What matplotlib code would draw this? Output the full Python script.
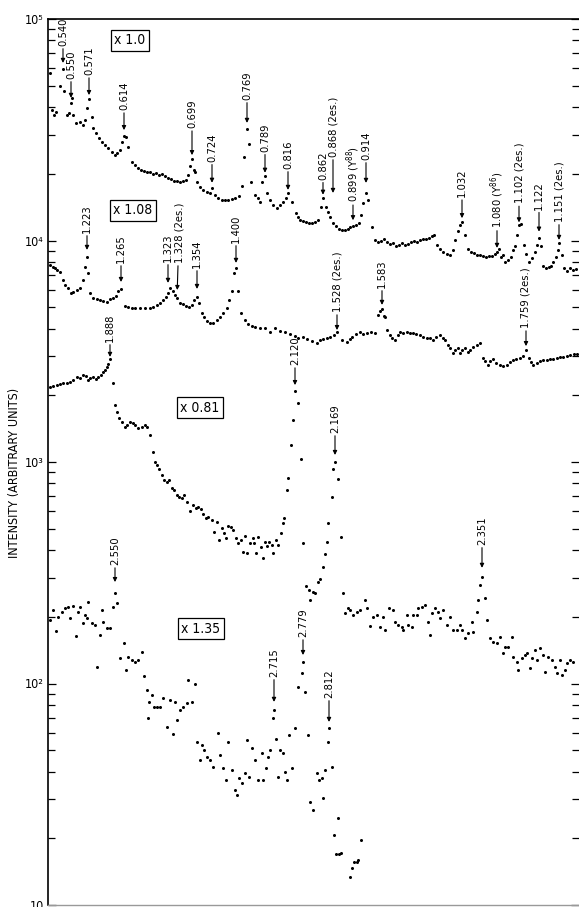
import matplotlib
matplotlib.use('Agg')
import matplotlib.pyplot as plt
import matplotlib.font_manager as fm
import numpy as np

# pick a narrow sans font if one is installed (the original lettering is condensed)
narrow = None
for f in fm.fontManager.ttflist:
    nm = f.name
    if 'Mono' in nm or 'Serif' in nm or f.style != 'normal':
        continue
    if f.weight not in (400, 'normal', 'regular', 'book'):
        continue
    if 'Narrow' in nm or 'Condensed' in nm or f.stretch in ('condensed', 'semi-condensed'):
        narrow = f
        break
if narrow is not None:
    plt.rcParams['font.family'] = [narrow.name, 'DejaVu Sans']
    plt.rcParams['font.stretch'] = narrow.stretch
    LAB_FS, BOX_FS, TICK_FS = 8.0, 10, 9
else:
    plt.rcParams['font.family'] = ['DejaVu Sans']
    LAB_FS, BOX_FS, TICK_FS = 7.0, 9, 8.5

# ---------------- data (channel, intensity) ----------------
series_x10 = [(2, 57100), (4, 38800), (6, 36900), (8, 38000), (12, 49900), (15, 59500), (16, 47300),
    (19, 36900), (21, 37600), (23, 41800), (24, 44000), (25, 36900), (28, 33900), (32, 34300),
    (35, 33200), (37, 35000), (39, 39700), (41, 43500), (44, 36100), (45, 32200), (48, 30600),
    (51, 29000), (54, 27800), (57, 27000), (60, 26200), (64, 25100), (67, 24300), (69, 24800),
    (72, 25600), (74, 27800), (76, 29600), (78, 29300), (80, 26400), (84, 22600), (87, 21900),
    (90, 21200), (93, 20800), (96, 20600), (99, 20400), (102, 20400), (105, 20000), (108, 20200),
    (111, 19800), (114, 20000), (117, 19600), (120, 19200), (123, 19000), (126, 18600), (129, 18600),
    (132, 18400), (135, 18600), (138, 18800), (140, 19800), (142, 21700), (144, 23300), (146, 20800),
    (147, 20400), (149, 18400), (152, 17400), (155, 16900), (159, 16600), (162, 16400), (164, 17300),
    (167, 16000), (170, 15600), (174, 15200), (177, 15200), (180, 15200), (184, 15400), (187, 15600),
    (191, 15900), (194, 17600), (196, 23800), (199, 31900), (201, 27300), (203, 18400), (207, 16000),
    (210, 15600), (212, 14900), (214, 18400), (217, 19600), (219, 16400), (222, 15200), (225, 14500),
    (229, 14000), (232, 14500), (235, 14900), (238, 15600), (240, 16400), (244, 14900), (248, 13300),
    (250, 12800), (252, 12400), (255, 12200), (258, 12100), (261, 12000), (264, 12000), (267, 12100),
    (270, 12400), (273, 14200), (275, 15600), (278, 14200), (280, 13400), (282, 12800), (285, 12000),
    (288, 11600), (291, 11300), (294, 11200), (297, 11200), (300, 11300), (302, 11500), (305, 11600),
    (308, 11700), (311, 12000), (313, 13000), (315, 14800), (318, 16400), (320, 15200), (324, 11500),
    (327, 10050), (330, 9850), (333, 9950), (336, 10200), (339, 9850), (342, 9650), (345, 9750),
    (348, 9450), (351, 9550), (354, 9750), (357, 9550), (360, 9650), (363, 9850), (366, 9950),
    (369, 9850), (372, 10050), (375, 10200), (378, 10200), (381, 10300), (384, 10500), (386, 10600),
    (389, 9550), (392, 9160), (395, 8880), (399, 8700), (402, 8600), (405, 9060), (407, 10050),
    (410, 11000), (412, 11700), (414, 12100), (417, 10600), (420, 9160), (423, 8880), (426, 8790),
    (429, 8600), (432, 8600), (435, 8520), (438, 8430), (441, 8520), (444, 8520), (447, 8700),
    (449, 8880), (451, 9160), (453, 8430), (455, 8600), (457, 8000), (460, 8170), (463, 8430),
    (465, 9060), (467, 9450), (469, 10600), (471, 11700), (473, 11900), (476, 9550), (478, 8700),
    (481, 8000), (484, 8340), (487, 8880), (489, 9550), (491, 10300), (493, 9450), (495, 7670),
    (498, 7520), (501, 7600), (503, 7670), (505, 8000), (508, 8430), (510, 9060), (511, 9750),
    (514, 8600), (516, 7520), (519, 7290), (522, 7520), (525, 7360), (528, 7440)]

series_x108 = [(2, 7760), (5, 7600), (7, 7520), (9, 7360), (12, 7210), (15, 6630), (17, 6300),
    (20, 6110), (23, 5800), (25, 5860), (29, 5980), (32, 6110), (35, 6630), (37, 7600), (39, 8430),
    (40, 7140), (42, 5800), (45, 5500), (49, 5450), (52, 5390), (55, 5330), (59, 5280), (62, 5450),
    (65, 5500), (68, 5620), (70, 5920), (73, 6040), (77, 5060), (80, 5010), (84, 4960), (87, 4960),
    (92, 4960), (97, 4960), (102, 4960), (105, 5010), (109, 5120), (112, 5220), (115, 5390),
    (118, 5560), (120, 5800), (122, 6110), (125, 5920), (127, 5680), (129, 5500), (132, 5220),
    (135, 5170), (138, 5060), (141, 5010), (144, 5120), (146, 5390), (149, 5560), (151, 5220),
    (154, 4710), (156, 4520), (159, 4330), (162, 4240), (165, 4240), (169, 4380), (172, 4520),
    (175, 4710), (179, 4960), (181, 5390), (184, 5920), (186, 7140), (188, 7520), (190, 5920),
    (193, 4710), (197, 4380), (200, 4200), (204, 4110), (207, 4070), (212, 4030), (217, 4030),
    (222, 3860), (227, 4030), (232, 3900), (237, 3860), (242, 3780), (247, 3710), (250, 3630),
    (255, 3670), (259, 3590), (264, 3520), (269, 3450), (272, 3560), (275, 3590), (279, 3630),
    (282, 3670), (286, 3750), (289, 3860), (294, 3560), (299, 3480), (302, 3590), (304, 3670),
    (308, 3780), (312, 3860), (315, 3780), (319, 3820), (323, 3860), (327, 3820), (330, 4610),
    (332, 4810), (334, 4910), (336, 4560), (337, 4520), (339, 3950), (342, 3750), (344, 3630),
    (347, 3560), (350, 3750), (352, 3860), (355, 3820), (359, 3860), (362, 3820), (365, 3820),
    (368, 3780), (372, 3750), (375, 3670), (379, 3630), (382, 3630), (385, 3560), (388, 3670),
    (392, 3750), (395, 3630), (397, 3560), (400, 3380), (402, 3270), (405, 3110), (407, 3200),
    (410, 3270), (412, 3110), (414, 3200), (417, 3270), (420, 3140), (422, 3200), (425, 3310),
    (429, 3380), (432, 3450), (435, 2950), (437, 2860), (440, 2740), (442, 2860), (445, 2920),
    (448, 2800), (452, 2740), (455, 2710), (459, 2740), (462, 2830), (465, 2890), (468, 2920),
    (472, 2950), (475, 3010), (478, 3200), (481, 2950), (483, 2830), (485, 2740), (489, 2800),
    (492, 2860), (495, 2890), (499, 2890), (502, 2920), (505, 2920), (509, 2950), (512, 2980),
    (515, 2980), (519, 3010), (522, 3040), (526, 3070), (529, 3070)]

series_x081 = [(2, 2180), (5, 2200), (9, 2230), (12, 2250), (15, 2270), (19, 2270), (22, 2300),
    (25, 2350), (29, 2420), (32, 2400), (35, 2470), (38, 2450), (40, 2350), (42, 2400), (45, 2420),
    (48, 2370), (50, 2420), (53, 2470), (55, 2550), (57, 2600), (59, 2690), (60, 2770), (62, 2920),
    (65, 2270), (67, 1810), (69, 1680), (71, 1580), (74, 1520), (77, 1440), (79, 1470), (82, 1520),
    (85, 1500), (87, 1470), (90, 1420), (94, 1440), (97, 1470), (99, 1440), (102, 1320), (105, 1110),
    (107, 1000), (109, 970), (111, 930), (114, 874), (116, 830), (119, 813), (121, 830), (124, 764),
    (126, 748), (129, 710), (131, 695), (134, 688), (136, 710), (139, 660), (142, 601), (145, 640),
    (148, 620), (150, 627), (153, 614), (155, 583), (158, 559), (160, 565), (164, 547), (166, 483),
    (169, 536), (171, 445), (174, 504), (176, 478), (178, 454), (180, 514), (183, 509), (185, 493),
    (188, 454), (190, 431), (193, 445), (195, 392), (197, 463), (199, 388), (202, 431), (205, 454),
    (206, 431), (208, 388), (210, 459), (213, 413), (215, 369), (217, 435), (219, 418), (221, 435),
    (224, 422), (225, 388), (228, 445), (230, 422), (233, 478), (235, 531), (236, 559), (239, 748),
    (240, 847), (243, 1190), (245, 1550), (247, 2090), (250, 1850), (253, 1030), (255, 431),
    (258, 276), (261, 264), (262, 238), (265, 259), (267, 256), (270, 287), (272, 296), (275, 336),
    (277, 384), (279, 435), (280, 531), (284, 695), (285, 930), (287, 1000), (290, 838), (293, 459),
    (295, 256), (297, 208), (300, 219), (302, 215), (305, 204), (309, 210), (312, 215), (317, 238),
    (319, 219), (322, 182), (325, 200), (329, 204), (332, 180), (335, 200), (337, 174), (341, 219),
    (345, 215), (347, 190), (350, 184), (354, 180), (355, 174), (359, 204), (360, 184), (364, 180),
    (365, 204), (369, 204), (370, 219), (374, 222), (377, 226), (380, 190), (382, 166), (384, 208),
    (387, 219), (390, 210), (392, 198), (395, 215), (399, 184), (402, 200), (405, 174), (409, 174),
    (412, 184), (414, 174), (417, 161), (420, 169), (424, 190), (425, 171), (429, 210), (430, 238),
    (432, 278), (434, 303), (437, 243), (439, 194), (442, 161), (445, 154), (449, 152), (452, 162),
    (455, 137), (457, 146), (460, 146), (464, 162), (465, 132), (469, 125), (470, 115), (474, 130),
    (477, 134), (479, 137), (482, 117), (484, 130), (487, 142), (489, 128), (492, 145), (495, 134),
    (497, 113), (500, 132), (504, 128), (507, 119), (509, 112), (512, 128), (514, 109), (517, 115),
    (519, 124), (522, 128), (525, 125)]

series_x135 = [(2, 194), (5, 215), (8, 173), (10, 200), (14, 210), (17, 219), (20, 222), (22, 198),
    (25, 224), (28, 164), (30, 210), (32, 222), (35, 188), (37, 204), (39, 198), (40, 233), (44, 188),
    (47, 184), (49, 119), (52, 166), (54, 215), (55, 190), (59, 178), (62, 178), (65, 222), (67, 256),
    (69, 231), (72, 130), (76, 152), (78, 115), (80, 132), (84, 128), (87, 125), (90, 128), (94, 139),
    (96, 108), (99, 93.5), (100, 69.9), (101, 82.5), (104, 88.8), (106, 78.4), (109, 78.4),
    (112, 78.4), (115, 86.0), (119, 63.6), (122, 84.3), (125, 59.2), (127, 82.5), (129, 68.5),
    (132, 76.0), (135, 78.4), (139, 81.7), (140, 104), (144, 82.5), (147, 100), (149, 54.5),
    (152, 45.2), (154, 52.8), (156, 50.1), (159, 46.6), (162, 45.2), (165, 42.0), (170, 59.8),
    (172, 47.6), (175, 41.6), (178, 36.7), (180, 54.5), (184, 40.7), (187, 33.1), (189, 31.4),
    (191, 37.5), (194, 35.6), (197, 39.5), (199, 55.6), (201, 37.8), (204, 51.2), (207, 45.2),
    (210, 36.7), (214, 48.6), (215, 36.7), (218, 41.6), (220, 46.6), (222, 50.1), (225, 69.9),
    (226, 76.0), (228, 56.2), (230, 37.8), (232, 50.1), (235, 48.6), (237, 39.9), (239, 36.7),
    (241, 58.6), (244, 41.6), (247, 63.0), (250, 96.5), (254, 112), (255, 125), (257, 91.6),
    (260, 58.6), (262, 29.2), (265, 26.9), (269, 39.5), (271, 36.7), (274, 37.5), (275, 30.4),
    (277, 40.7), (280, 54.5), (281, 63.0), (284, 42.0), (286, 20.7), (288, 17.0), (290, 24.7),
    (291, 17.0), (293, 17.2), (302, 13.4), (304, 14.7), (306, 15.6), (309, 15.6), (310, 16.0),
    (313, 19.7)]

scale_labels = ['x 1.0', 'x 1.08', 'x 0.81', 'x 1.35']

# peak labels: (text, series, channel)
peak_labels = [
    ('0.540', 0, 15), ('0.550', 0, 23), ('0.571', 0, 41), ('0.614', 0, 76), ('0.699', 0, 144),
    ('0.724', 0, 164), ('0.769', 0, 199), ('0.789', 0, 217), ('0.816', 0, 240), ('0.862', 0, 275),
    ('0.868 (2es.)', 0, 285), ('0.899 (Y$^{88}$)', 0, 305), ('0.914', 0, 318), ('1.032', 0, 414),
    ('1.080 (Y$^{86}$)', 0, 449), ('1.102 (2es.)', 0, 471), ('1.122', 0, 491), ('1.151 (2es.)', 0, 511),
    ('1.223', 1, 39), ('1.265', 1, 73), ('1.323', 1, 120), ('1.328 (2es.)', 1, 129), ('1.354', 1, 149),
    ('1.400', 1, 188), ('1.528 (2es.)', 1, 289), ('1.583', 1, 334), ('1.759 (2es.)', 1, 478),
    ('1.888', 2, 62), ('2.120', 2, 247), ('2.169', 2, 287), ('2.351', 2, 434),
    ('2.550', 3, 67), ('2.715', 3, 226), ('2.779', 3, 255), ('2.812', 3, 281),
]

# arrow geometry per label (gap above point, text offset above point) in pixels - style only
arrow_gap_px = [6, 5, 4, 6, 4, 5, 6, 3, 3, 3, 30, 6, 10, 4, 4, 3, 6, 3,
                7, 7, 10, 8, 8, 5, 2, 4, 4,
                2, 6, 7, 9,
                11, 8, 7, 6]
arrow_len_px = [23, 24, 24, 26, 31, 26, 29, 24, 24, 18, 66, 24, 33, 25, 24, 22, 28, 21,
                24, 26, 31, 35, 29, 25, 20, 21, 22,
                17, 26, 29, 32,
                28, 33, 25, 30]
text_dx_px = [0] * len(peak_labels)
text_dx_px[21] = 2

# ---------------- figure ----------------
W, H = 579, 907
fig = plt.figure(figsize=(W / 100, H / 100), dpi=100)
ax = fig.add_axes([48 / W, 2 / H, 531 / W, 886 / H])
ax.set_yscale('log')
ax.set_ylim(10, 1e5)
ax.set_xlim(0, 531)

all_series = [series_x10, series_x108, series_x081, series_x135]
for s in all_series:
    ch = np.array([p[0] for p in s], dtype=float)
    val = np.array([p[1] for p in s], dtype=float)
    ax.plot(ch, val, linestyle='none', marker='o', ms=2.2, color='black', mec='none')

px2pt = 0.72
for (txt, si, chn), gap, ln, dx in zip(peak_labels, arrow_gap_px, arrow_len_px, text_dx_px):
    s = all_series[si]
    chs = np.array([p[0] for p in s])
    i = int(np.argmin(np.abs(chs - chn)))
    xy = (s[i][0], s[i][1])
    ax.annotate(txt, xy=xy, xytext=(dx * px2pt, ln * px2pt), textcoords='offset points',
                rotation=90, ha='center', va='bottom', fontsize=LAB_FS,
                arrowprops=dict(arrowstyle='-|>', lw=0.8, color='black',
                                mutation_scale=6, shrinkA=0, shrinkB=gap * px2pt))

box_pos = [(0.154, 0.976), (0.160, 0.784), (0.286, 0.561), (0.288, 0.312)]
for lab, (bx, by) in zip(scale_labels, box_pos):
    ax.text(bx, by, lab, transform=ax.transAxes, ha='center', va='center', fontsize=BOX_FS,
            bbox=dict(boxstyle='square,pad=0.25', fc='white', ec='black', lw=0.9))

ax.set_xticks([])
ax.set_yticks([10, 1e2, 1e3, 1e4, 1e5])
ax.set_yticklabels(['10', '10²', '10³', '10⁴', '10⁵'], fontsize=TICK_FS)
ax.tick_params(axis='y', which='both', direction='in', left=True, right=True,
               labelleft=True, labelright=False, width=0.9, pad=3)
ax.tick_params(axis='y', which='major', length=6)
ax.tick_params(axis='y', which='minor', length=5)
ax.yaxis.set_minor_formatter(matplotlib.ticker.NullFormatter())

ax.spines['right'].set_visible(False)
ax.spines['left'].set_linewidth(1.2)
ax.spines['top'].set_linewidth(1.2)
ax.spines['bottom'].set_color('#999999')
ax.spines['bottom'].set_linewidth(1.0)

fig.text(15 / W, 1 - 473 / H, 'INTENSITY (ARBITRARY UNITS)', rotation=90,
         ha='center', va='center', fontsize=TICK_FS)

fig.savefig('out.png', dpi=100)
